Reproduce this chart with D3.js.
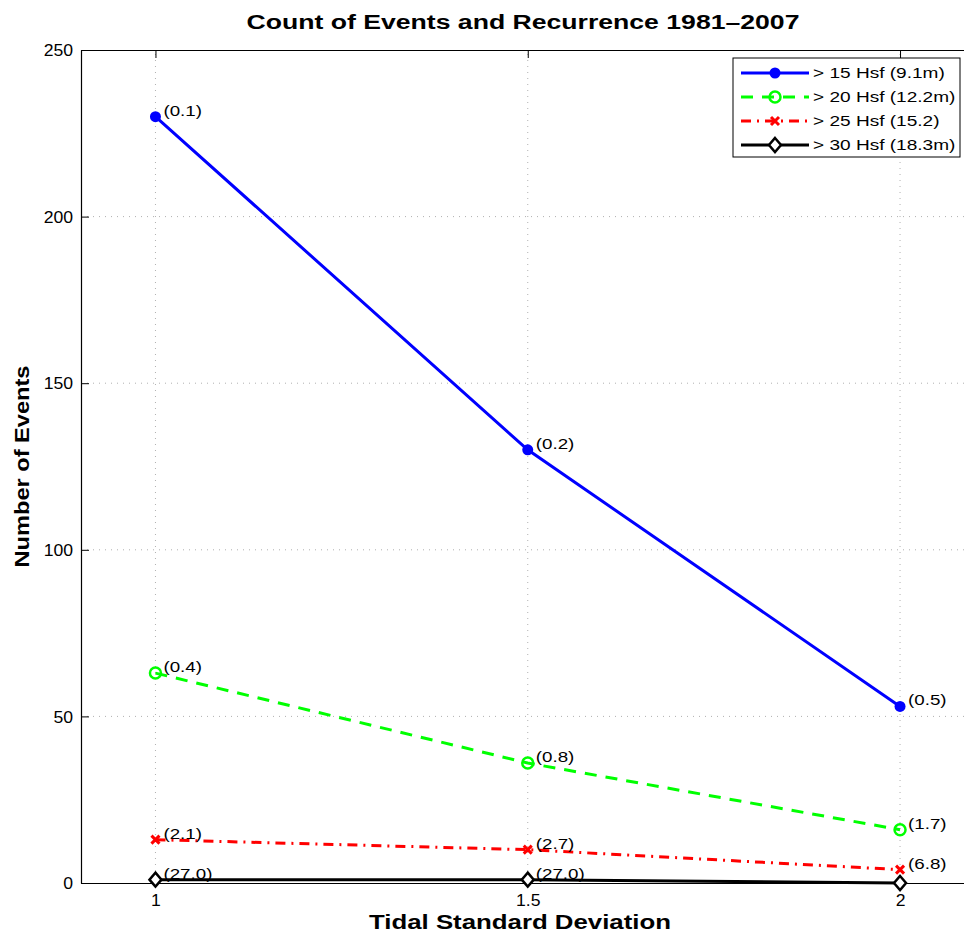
<!DOCTYPE html>
<html>
<head>
<meta charset="utf-8">
<script src="https://cdn.jsdelivr.net/npm/d3@7"></script>
<style>
  body { margin: 0; background: #fff; }
  svg { font-family: "Liberation Sans", Arial, sans-serif; }
</style>
</head>
<body>
<svg width="964" height="935"></svg>
<script>
// data
let xValues = [1, 1.5, 2];
let seriesNames = ["> 15 Hsf (9.1m)", "> 20 Hsf (12.2m)", "> 25 Hsf (15.2)", "> 30 Hsf (18.3m)"];
let counts15 = [230, 130, 53];
let counts20 = [63, 36, 16];
let counts25 = [13, 10, 4];
let counts30 = [1, 1, 0];
let recur15 = ["(0.1)", "(0.2)", "(0.5)"];
let recur20 = ["(0.4)", "(0.8)", "(1.7)"];
let recur25 = ["(2.1)", "(2.7)", "(6.8)"];
let recur30 = ["(27.0)", "(27.0)", ""];
let xTicks = [1, 1.5, 2];
let yTicks = [0, 50, 100, 150, 200, 250];

let svg = d3.select("svg");
let margin = {left: 81, top: 50, bottom: 52};
let width = 964, height = 935;

let x = d3.scaleLinear().domain([0.9, 2.1]).range([margin.left, 974.5]);
let y = d3.scaleLinear().domain([0, 250]).range([height - margin.bottom, margin.top]);

let series = [
    {name: seriesNames[0], values: counts15, labels: recur15, color: "#0000ff", dash: null, marker: "dot"},
    {name: seriesNames[1], values: counts20, labels: recur20, color: "#00ff00", dash: "12,9", marker: "circle"},
    {name: seriesNames[2], values: counts25, labels: recur25, color: "#ff0000", dash: "10,6,2,6", marker: "x"},
    {name: seriesNames[3], values: counts30, labels: recur30, color: "#000000", dash: null, marker: "diamond"}
];

// the reference text is stretched sideways, so widen glyphs a bit
function stretch(sel, k) {
    sel.each(function () {
        let w = this.getComputedTextLength();
        if (w > 0) d3.select(this).attr("textLength", w * k).attr("lengthAdjust", "spacingAndGlyphs");
    });
}

// grid
let grid = svg.append("g").attr("stroke", "#b0b0b0").attr("stroke-dasharray", "1,5").attr("stroke-width", 1);
grid.selectAll(".gx").data(xTicks).enter().append("line")
    .attr("x1", d => x(d)).attr("x2", d => x(d))
    .attr("y1", y(0)).attr("y2", y(250));
grid.selectAll(".gy").data(yTicks.slice(1, -1)).enter().append("line")
    .attr("x1", x(0.9)).attr("x2", x(2.1))
    .attr("y1", d => y(d)).attr("y2", d => y(d));

// axes (MATLAB style, ticks inward)
let xAxis = d3.axisBottom(x).tickValues(xTicks).tickSizeInner(-8).tickSizeOuter(0).tickPadding(12)
    .tickFormat(d3.format("~g"));
let yAxis = d3.axisLeft(y).tickValues(yTicks).tickSizeInner(-8).tickSizeOuter(0).tickPadding(8);

let gx = svg.append("g").attr("transform", `translate(0,${y(0)})`).call(xAxis);
let gy = svg.append("g").attr("transform", `translate(${x(0.9)},0)`).call(yAxis);
let gxTop = svg.append("g").attr("transform", `translate(0,${y(250)})`)
    .call(d3.axisTop(x).tickValues(xTicks).tickSizeInner(-8).tickSizeOuter(0).tickFormat(""));
[gx, gy, gxTop].forEach(g => {
    g.selectAll("path").attr("stroke", "#000").attr("stroke-width", 1.2);
    g.selectAll("line").attr("stroke", "#000");
    g.selectAll("text").attr("font-size", 16).attr("fill", "#000");
});
gy.selectAll("text").attr("dy", "0.35em");
stretch(gx.selectAll("text"), 1.1);
stretch(gy.selectAll("text"), 1.1);

// lines
let line = d3.line().x((d, i) => x(xValues[i])).y(d => y(d));
let gSeries = svg.append("g");
series.forEach(s => {
    gSeries.append("path")
        .attr("d", line(s.values))
        .attr("fill", "none")
        .attr("stroke", s.color)
        .attr("stroke-width", 3)
        .attr("stroke-dasharray", s.dash);
});

function drawMarker(g, type, color, cx, cy) {
    if (type === "dot") {
        g.append("circle").attr("cx", cx).attr("cy", cy).attr("r", 5.5).attr("fill", color);
    } else if (type === "circle") {
        g.append("circle").attr("cx", cx).attr("cy", cy).attr("r", 5.5)
            .attr("fill", "none").attr("stroke", color).attr("stroke-width", 2.5);
    } else if (type === "x") {
        g.append("path").attr("d", `M${cx - 4},${cy - 4}L${cx + 4},${cy + 4}M${cx - 4},${cy + 4}L${cx + 4},${cy - 4}`)
            .attr("stroke", color).attr("stroke-width", 3);
    } else if (type === "diamond") {
        g.append("path").attr("d", `M${cx},${cy - 7}L${cx + 6},${cy}L${cx},${cy + 7}L${cx - 6},${cy}Z`)
            .attr("fill", "#fff").attr("stroke", color).attr("stroke-width", 2.5);
    }
}

// markers and labels
series.forEach(s => {
    let g = svg.append("g");
    s.values.forEach((v, i) => {
        drawMarker(g, s.marker, s.color, x(xValues[i]), y(v));
        g.append("text")
            .attr("x", x(xValues[i]) + 8)
            .attr("y", y(v) - 1)
            .attr("font-size", 15)
            .attr("fill", "#000")
            .text(s.labels[i]);
    });
    stretch(g.selectAll("text"), 1.25);
});

// legend
let legend = svg.append("g").attr("transform", "translate(733,58)");
legend.append("rect").attr("width", 227).attr("height", 99)
    .attr("fill", "#fff").attr("stroke", "#000").attr("stroke-width", 1);
series.forEach((s, i) => {
    let ly = 15 + i * 24;
    legend.append("line").attr("x1", 8).attr("x2", 76).attr("y1", ly).attr("y2", ly)
        .attr("stroke", s.color).attr("stroke-width", 3).attr("stroke-dasharray", s.dash);
    drawMarker(legend, s.marker, s.color, 42, ly);
    legend.append("text").attr("x", 80).attr("y", ly).attr("dy", "0.35em")
        .attr("font-size", 15).text(s.name);
});
stretch(legend.selectAll("text"), 1.27);

// titles
let title = svg.append("text").attr("x", 523).attr("y", 29).attr("text-anchor", "middle")
    .attr("font-size", 20).attr("font-weight", "bold").text("Count of Events and Recurrence 1981\u20132007");
let xLabel = svg.append("text").attr("x", 520).attr("y", 929).attr("text-anchor", "middle")
    .attr("font-size", 20).attr("font-weight", "bold").text("Tidal Standard Deviation");
let yLabel = svg.append("text").attr("transform", `translate(29,${(y(0) + y(250)) / 2}) rotate(-90)`)
    .attr("text-anchor", "middle")
    .attr("font-size", 20).attr("font-weight", "bold").text("Number of Events");
stretch(title, 1.33);
stretch(xLabel, 1.29);
stretch(yLabel, 1.18);
</script>
</body>
</html>
